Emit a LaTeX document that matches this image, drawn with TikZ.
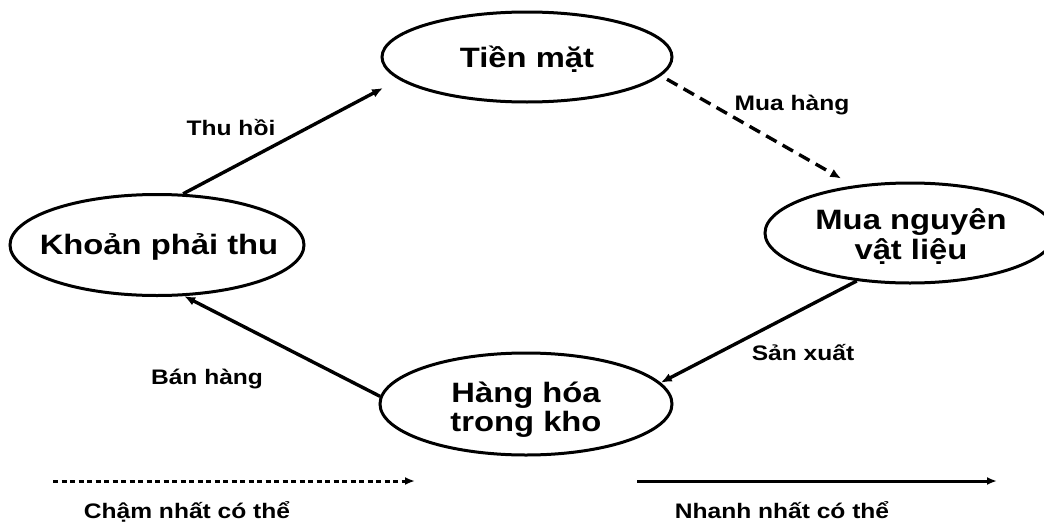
\documentclass[tikz,border=0pt]{standalone}
\usepackage{fontspec}
\setmainfont[FakeStretch=1.17]{Liberation Sans}
\usetikzlibrary{arrows.meta,shapes.geometric}
\begin{document}
\begin{tikzpicture}[x=1pt,y=-1pt,
  cyc/.style={ellipse,draw,line width=3pt,inner sep=0pt},
  ctext/.style={font=\fontsize{28}{29}\selectfont\bfseries,align=center,inner sep=0pt},
  lbl/.style={font=\fontsize{21}{24}\selectfont\bfseries,inner sep=0pt},
  conn/.style={line width=3.4pt,-{Latex[length=11pt,width=9pt]}},
  dashconn/.style={conn,dash pattern=on 12pt off 7pt},
  dotconn/.style={line width=3pt,dash pattern=on 5pt off 3.5pt,-{Latex[length=10pt,width=8pt]}}]
\useasboundingbox (0,0) rectangle (1044,530);
\fill[white] (0,0) rectangle (1044,530);
% nodes
\node[cyc,minimum width=290pt,minimum height=90pt] (tm) at (527,57) {};
\node[ctext] (tmt) at (527,59) {Tiền mặt};
\node[cyc,minimum width=294pt,minimum height=101pt] (kpt) at (157,245) {};
\node[ctext] (kptt) at (159,247) {Khoản phải thu};
\node[cyc,minimum width=290pt,minimum height=100pt] (mnvl) at (910,233) {};
\node[ctext,font=\fontsize{28}{30}\selectfont\bfseries] (mnvlt) at (911,237) {Mua nguyên\\vật liệu};
\node[cyc,minimum width=292pt,minimum height=102pt] (hh) at (526,404) {};
\node[ctext] (hht) at (526,410) {Hàng hóa\\trong kho};
% connectors
\draw[conn,shorten >=18pt] (kpt.63) -- (tm.190.4);
\draw[dashconn,shorten <=7pt,shorten >=14pt] (tm.-8.5) -- (mnvl.140);
\draw[conn] (mnvl.222) -- (hh.9.5);
\draw[conn] (hh.177) -- (kpt.-62);
% labels
\node[lbl] (l1) at (231,128) {Thu hồi};
\node[lbl] (l2) at (792,105) {Mua hàng};
\node[lbl] (l3) at (803,353) {Sản xuất};
\node[lbl] (l4) at (207,379) {Bán hàng};
% bottom legend
\coordinate (s1) at (53,481);
\coordinate (s2) at (415,481);
\coordinate (f1) at (637,481);
\coordinate (f2) at (997,481);
\draw[dotconn] (s1) -- (s2);
\draw[line width=3pt,-{Latex[length=10pt,width=8pt]}] (f1) -- (f2);
\node[lbl,anchor=base] (b1) at (187,518) {Chậm nhất có thể};
\node[lbl,anchor=base] (b2) at (782,518) {Nhanh nhất có thể};
\end{tikzpicture}
\end{document}
